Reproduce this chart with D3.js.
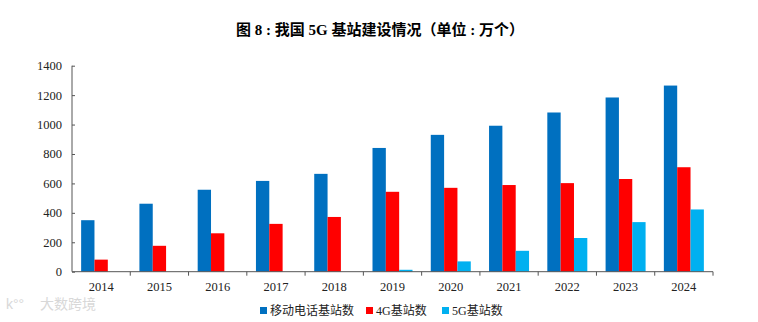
<!DOCTYPE html>
<html><head><meta charset="utf-8">
<script src="https://cdn.jsdelivr.net/npm/d3@7"></script>
<style>body{margin:0;background:#fff}</style>
</head><body>
<svg id="c" width="758" height="322"></svg>
<script>
const years = ["2014","2015","2016","2017","2018","2019","2020","2021","2022","2023","2024"];
const mobile = [350, 462, 557, 617, 665, 841, 930, 992, 1082, 1184, 1265];
const lte = [82, 176, 261, 325, 372, 543, 570, 589, 602, 630, 710];
const nr = [null, null, null, null, null, 13, 70, 142, 229, 337, 423];
const seriesNames = ["移动电话基站数", "4G基站数", "5G基站数"];
const colors = ["#0070C0", "#FF0000", "#00B0F0"];
const yTicks = [0, 200, 400, 600, 800, 1000, 1200, 1400];

const svg = d3.select("#c");
const serif = "'Liberation Serif','Times New Roman','Noto Sans CJK SC',serif";

svg.append("text").attr("x", 380).attr("y", 35).attr("text-anchor", "middle")
  .style("font-family", serif).style("font-weight", "bold").style("font-size", "15px")
  .text("图 8 : 我国 5G 基站建设情况（单位 : 万个）");

const x = d3.scaleBand().domain(years).range([72, 713]);
const y = d3.scaleLinear().domain([0, 1400]).range([271.7, 65.7]);
const sub = d3.scaleBand().domain([0,1,2]).range([0, 40]);
const data = [mobile, lte, nr];

data.forEach((arr, si) => {
  svg.append("g").selectAll("rect").data(years.map((yr, i) => ({yr, v: arr[i]})).filter(d => d.v != null))
    .join("rect")
    .attr("x", d => x(d.yr) + (x.bandwidth() - 40) / 2 + sub(si))
    .attr("width", sub.bandwidth())
    .attr("y", d => y(d.v))
    .attr("height", d => y(0) - y(d.v))
    .attr("fill", colors[si]);
});

// y axis
const ya = svg.append("g").attr("transform", "translate(72,0)")
  .call(d3.axisLeft(y).tickValues(yTicks).tickSize(-3).tickPadding(10).tickFormat(d3.format("d")));
ya.select(".domain").attr("stroke", "#555").attr("d", `M0,${y(1400)}V${y(0)}`);
ya.selectAll(".tick line").attr("stroke", "#555");
ya.selectAll("text").style("font-family", serif).style("font-size", "12.5px").attr("fill", "#222");

// x axis
const xa = svg.append("g").attr("transform", `translate(0,${y(0)})`);
xa.append("line").attr("x1", 72).attr("x2", 713).attr("stroke", "#555");
xa.selectAll("line.t").data(years).join("line").attr("class", "t")
  .attr("x1", d => x(d) + x.bandwidth()).attr("x2", d => x(d) + x.bandwidth())
  .attr("y1", 0).attr("y2", 4).attr("stroke", "#555");
xa.selectAll("text").data(years).join("text")
  .attr("x", d => x(d) + x.bandwidth() / 2).attr("y", 19)
  .attr("text-anchor", "middle")
  .style("font-family", serif).style("font-size", "12.5px").attr("fill", "#222")
  .text(d => d);

// legend
const lx = [260, 366, 442];
seriesNames.forEach((n, i) => {
  svg.append("rect").attr("x", lx[i]).attr("y", 307).attr("width", 7).attr("height", 7).attr("fill", colors[i]);
  svg.append("text").attr("x", lx[i] + 10).attr("y", 315)
    .style("font-family", serif).style("font-size", "12px").attr("fill", "#222").text(n);
});

// watermark
svg.append("text").attr("x", 40).attr("y", 309).style("font-family", "'Noto Sans CJK SC',sans-serif")
  .style("font-size", "14px").attr("fill", "#d8d8d8").text("大数跨境");
svg.append("text").attr("x", 6).attr("y", 309).style("font-family", "sans-serif")
  .style("font-size", "14px").attr("fill", "#d8d8d8").text("k°°");
</script>
</body></html>
